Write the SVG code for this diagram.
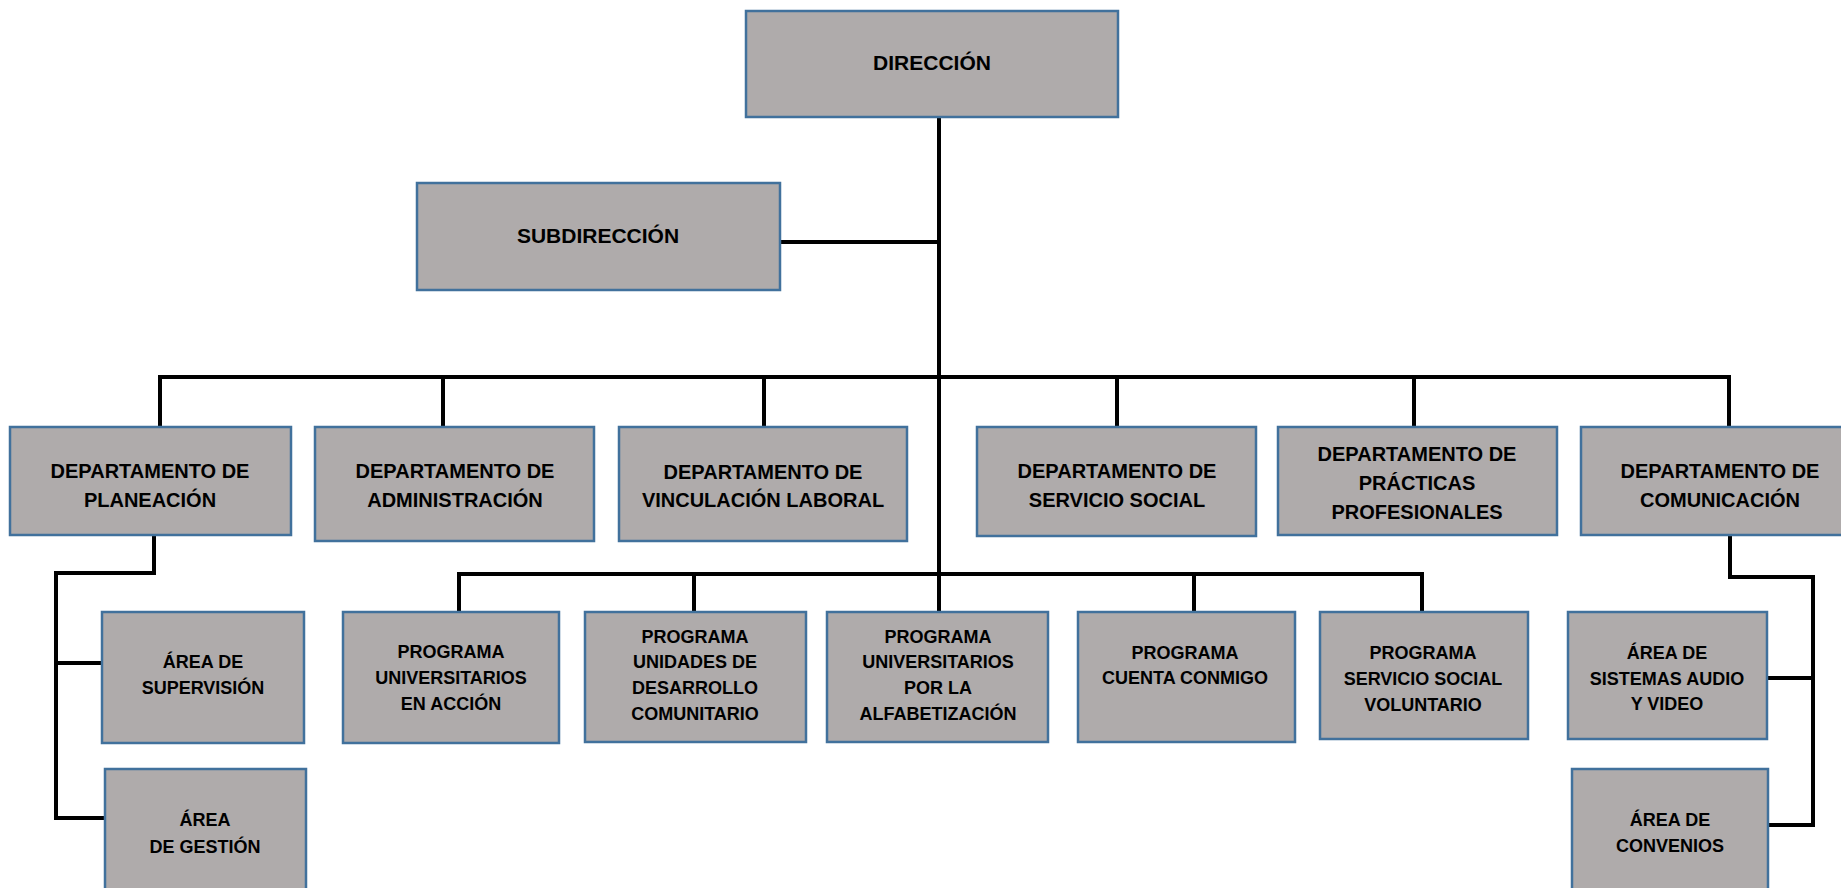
<svg xmlns="http://www.w3.org/2000/svg" width="1841" height="888" viewBox="0 0 1841 888">
<style>
.box{fill:#AFABAB;stroke:#41719C;stroke-width:2.5}
.t{font-family:"Liberation Sans",Arial,sans-serif;font-weight:bold;fill:#000;text-anchor:middle}
.big{font-size:21px}
.dep{font-size:20px}
.sm{font-size:18px}
.c{fill:none;stroke:#000;stroke-width:4;stroke-linecap:square}
</style>
<rect width="1841" height="888" fill="#fff"/>
<g id="connectors">
<path class="c" d="M939 117 V612"/>
<path class="c" d="M781 242 H939"/>
<path class="c" d="M160 377 H1729"/>
<path class="c" d="M160 377 V427 M443 377 V427 M764 377 V427 M1117 377 V427 M1414 377 V427 M1729 377 V427"/>
<path class="c" d="M459 574 H1422"/>
<path class="c" d="M459 574 V612 M694 574 V612 M1194 574 V612 M1422 574 V612"/>
<path class="c" d="M154 535 V573 H56 V818 H105 M56 663 H102"/>
<path class="c" d="M1730 535 V577 H1813 V825 H1768 M1767 678 H1813"/>
</g>
<g id="direccion"><rect class="box" x="746" y="11" width="372" height="106"/><text class="t big" x="932" y="70">DIRECCIÓN</text></g>
<g id="subdireccion"><rect class="box" x="417" y="183" width="363" height="107"/><text class="t big" x="598" y="243">SUBDIRECCIÓN</text></g>
<g id="dep-planeacion"><rect class="box" x="10" y="427" width="281" height="108"/><text class="t dep" x="150" y="478">DEPARTAMENTO DE</text><text class="t dep" x="150" y="507">PLANEACIÓN</text></g>
<g id="dep-administracion"><rect class="box" x="315" y="427" width="279" height="114"/><text class="t dep" x="455" y="478">DEPARTAMENTO DE</text><text class="t dep" x="455" y="507">ADMINISTRACIÓN</text></g>
<g id="dep-vinculacion"><rect class="box" x="619" y="427" width="288" height="114"/><text class="t dep" x="763" y="479">DEPARTAMENTO DE</text><text class="t dep" x="763" y="507">VINCULACIÓN LABORAL</text></g>
<g id="dep-servicio"><rect class="box" x="977" y="427" width="279" height="109"/><text class="t dep" x="1117" y="478">DEPARTAMENTO DE</text><text class="t dep" x="1117" y="507">SERVICIO SOCIAL</text></g>
<g id="dep-practicas"><rect class="box" x="1278" y="427" width="279" height="108"/><text class="t dep" x="1417" y="461">DEPARTAMENTO DE</text><text class="t dep" x="1417" y="490">PRÁCTICAS</text><text class="t dep" x="1417" y="519">PROFESIONALES</text></g>
<g id="dep-comunicacion"><rect class="box" x="1581" y="427" width="280" height="108"/><text class="t dep" x="1720" y="478">DEPARTAMENTO DE</text><text class="t dep" x="1720" y="507">COMUNICACIÓN</text></g>
<g id="area-supervision"><rect class="box" x="102" y="612" width="202" height="131"/><text class="t sm" x="203" y="668">ÁREA DE</text><text class="t sm" x="203" y="694">SUPERVISIÓN</text></g>
<g id="area-gestion"><rect class="box" x="105" y="769" width="201" height="130"/><text class="t sm" x="205" y="826">ÁREA</text><text class="t sm" x="205" y="853">DE GESTIÓN</text></g>
<g id="prog-accion"><rect class="box" x="343" y="612" width="216" height="131"/><text class="t sm" x="451" y="658">PROGRAMA</text><text class="t sm" x="451" y="684">UNIVERSITARIOS</text><text class="t sm" x="451" y="710">EN ACCIÓN</text></g>
<g id="prog-unidades"><rect class="box" x="585" y="612" width="221" height="130"/><text class="t sm" x="695" y="643">PROGRAMA</text><text class="t sm" x="695" y="668">UNIDADES DE</text><text class="t sm" x="695" y="694">DESARROLLO</text><text class="t sm" x="695" y="720">COMUNITARIO</text></g>
<g id="prog-alfabetizacion"><rect class="box" x="827" y="612" width="221" height="130"/><text class="t sm" x="938" y="643">PROGRAMA</text><text class="t sm" x="938" y="668">UNIVERSITARIOS</text><text class="t sm" x="938" y="694">POR LA</text><text class="t sm" x="938" y="720">ALFABETIZACIÓN</text></g>
<g id="prog-cuenta"><rect class="box" x="1078" y="612" width="217" height="130"/><text class="t sm" x="1185" y="659">PROGRAMA</text><text class="t sm" x="1185" y="684">CUENTA CONMIGO</text></g>
<g id="prog-voluntario"><rect class="box" x="1320" y="612" width="208" height="127"/><text class="t sm" x="1423" y="659">PROGRAMA</text><text class="t sm" x="1423" y="685">SERVICIO SOCIAL</text><text class="t sm" x="1423" y="711">VOLUNTARIO</text></g>
<g id="area-sistemas"><rect class="box" x="1568" y="612" width="199" height="127"/><text class="t sm" x="1667" y="659">ÁREA DE</text><text class="t sm" x="1667" y="685">SISTEMAS AUDIO</text><text class="t sm" x="1667" y="710">Y VIDEO</text></g>
<g id="area-convenios"><rect class="box" x="1572" y="769" width="196" height="130"/><text class="t sm" x="1670" y="826">ÁREA DE</text><text class="t sm" x="1670" y="852">CONVENIOS</text></g>
</svg>
